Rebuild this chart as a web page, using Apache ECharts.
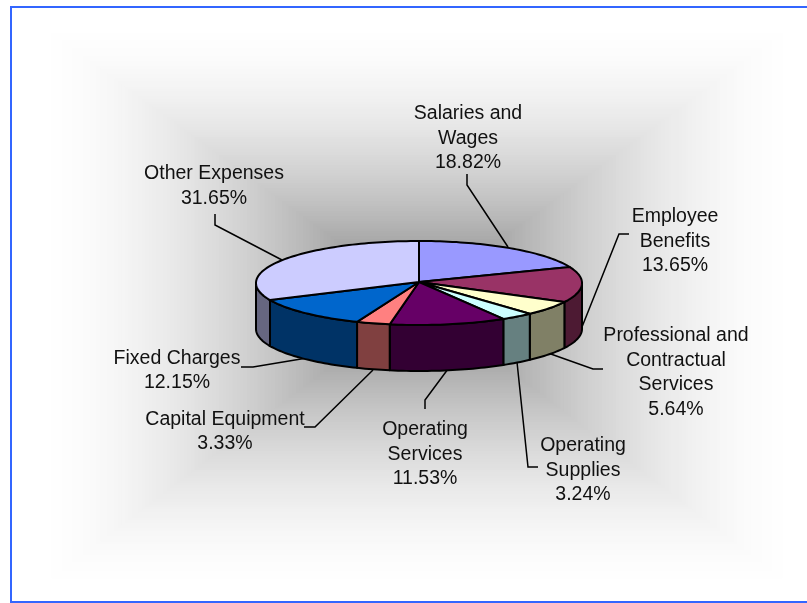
<!DOCTYPE html>
<html><head><meta charset="utf-8">
<style>html,body{margin:0;padding:0;background:#fff}#c{width:807px;height:603px}</style>
<script src="https://cdn.jsdelivr.net/npm/echarts@6/dist/echarts.min.js"></script>
</head><body><div id="c"></div>
<script>
const categories = ['Salaries and\nWages','Employee\nBenefits','Professional and\nContractual\nServices','Operating\nSupplies','Operating\nServices','Capital Equipment','Fixed Charges','Other Expenses'];
const values = [18.82,13.65,5.64,3.24,11.53,3.33,12.15,31.65];
const topColors = ['#9999FF','#993366','#FFFFCC','#CCFFFF','#660066','#FF8080','#0066CC','#CCCCFF'];
const sideColors = ['#4D4D80','#4D1A33','#808066','#668080','#330033','#804040','#003366','#666680'];
// label anchors and leader polylines (page layout, not data)
const labelPos = [[468,138.5],[675,241.5],[676,372.5],[583,470.5],[425,454.5],[225,431.5],[177,370.5],[214,186]];
const leaders = [
 [[467,174],[467,185],[508,247]],
 [[629,234],[619,234],[580,332]],
 [[603,369],[593,369],[548,353]],
 [[538,467],[528,467],[517,362]],
 [[425,409],[425,400],[448,369]],
 [[304,427],[315,427],[373,370]],
 [[241,367],[253,367],[307,358]],
 [[215,214],[215,225],[282,260]]
];
const CX=419, CY=283, RX=163, RY=42, DEPTH=46;
const total = values.reduce((a,b)=>a+b,0);
const starts = []; { let s=0; values.forEach(v=>{starts.push(s); s+=v/total*360;}); }
const pt=(deg,dy=0)=>{const r=deg*Math.PI/180; return [CX+RX*Math.sin(r), CY-RY*Math.cos(r)+dy];};
const arc=(a,b,dy=0)=>{const n=Math.max(2,Math.ceil((b-a)/1.5)),o=[];for(let i=0;i<=n;i++)o.push(pt(a+(b-a)*i/n,dy));return o;};

// rectangular "path" gradient of the plot backdrop, as concentric bands
const bg=[];
const BX0=34,BX1=800,BY0=20,BY1=592,MX=418,MY=300,BANDS=110;
bg.push({type:'rect',shape:{x:0,y:0,width:807,height:603},style:{fill:'#fff'},silent:true,z:-5});
for(let i=0;i<BANDS;i++){
  const t=(i+1)/BANDS, c=Math.round(255-130*Math.pow(t,1.7));
  bg.push({type:'rect',silent:true,z:-4,
    shape:{x:BX0+(MX-BX0)*t,y:BY0+(MY-BY0)*t,width:(BX1-BX0)*(1-t)+0.01,height:(BY1-BY0)*(1-t)+0.01},
    style:{fill:`rgb(${c},${c},${c})`}});
}
bg.push({type:'polyline',silent:true,z:-3,shape:{points:[[11,603],[11,7],[807,7]]},style:{fill:null,stroke:'#3366FF',lineWidth:2}});
bg.push({type:'line',silent:true,z:-3,shape:{x1:11,y1:602,x2:807,y2:602},style:{stroke:'#3366FF',lineWidth:2}});

const chart=echarts.init(document.getElementById('c'),null,{renderer:'canvas'});
const idx=values.map((v,i)=>[i,v]);
chart.setOption({
  animation:false,
  graphic:bg,
  series:[
   {type:'custom',coordinateSystem:'none',z:2,silent:true,data:idx,
    renderItem(p,api){
      const i=api.value(0), a=Math.max(starts[i],90), b=Math.min(starts[i]+api.value(1)/total*360,270);
      if(b<=a) return {type:'group',children:[]};
      const pts=arc(a,b).concat(arc(a,b,DEPTH).reverse());
      return {type:'polygon',shape:{points:pts},style:{fill:sideColors[i],stroke:'#000',lineWidth:2,lineJoin:'round'}};
    }},
   {type:'custom',coordinateSystem:'none',z:3,silent:true,data:idx,
    renderItem(p,api){
      const i=api.value(0), a=starts[i], b=a+api.value(1)/total*360;
      return {type:'polygon',shape:{points:[[CX,CY-1]].concat(arc(a,b))},style:{fill:topColors[i],stroke:'#000',lineWidth:2,lineJoin:'round'}};
    }},
   {type:'custom',coordinateSystem:'none',z:1,silent:true,data:idx,
    renderItem(p,api){
      const i=api.value(0);
      return {type:'polyline',shape:{points:leaders[i]},style:{fill:null,stroke:'#000',lineWidth:1.5}};
    }},
   {type:'custom',coordinateSystem:'none',z:4,silent:true,data:idx,
    renderItem(p,api){
      const i=api.value(0);
      return {type:'text',x:labelPos[i][0],y:labelPos[i][1],style:{
        text:categories[i]+'\n'+api.value(1).toFixed(2)+'%',
        font:'19.5px "Liberation Sans", Arial, sans-serif',fill:'#111',
        align:'center',verticalAlign:'middle',lineHeight:24.5}};
    }}
  ]
});
</script></body></html>
